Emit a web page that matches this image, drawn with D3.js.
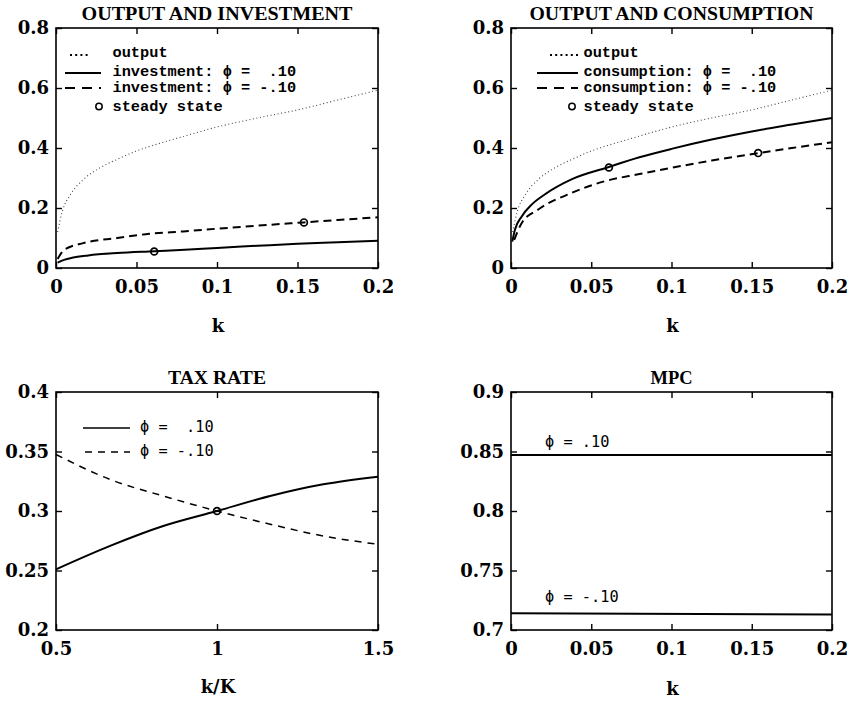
<!DOCTYPE html>
<html><head><meta charset="utf-8">
<script src="https://cdn.jsdelivr.net/npm/d3@7"></script>
<style>body{margin:0;background:#fff}svg{display:block}</style>
</head><body>
<svg id="c" width="851" height="703"></svg>
<script>
// ---------- DATA ----------
const kTicks = [0, 0.05, 0.1, 0.15, 0.2];
const kTickLabels = ["0", "0.05", "0.1", "0.15", "0.2"];
const levelTicks = [0, 0.2, 0.4, 0.6, 0.8];
const levelTickLabels = ["0", "0.2", "0.4", "0.6", "0.8"];
const kKTicks = [0.5, 1, 1.5];
const kKTickLabels = ["0.5", "1", "1.5"];
const taxTicks = [0.2, 0.25, 0.3, 0.35, 0.4];
const taxTickLabels = ["0.2", "0.25", "0.3", "0.35", "0.4"];
const mpcTicks = [0.7, 0.75, 0.8, 0.85, 0.9];
const mpcTickLabels = ["0.7", "0.75", "0.8", "0.85", "0.9"];

const kOutput = [0.001, 0.004, 0.009, 0.017, 0.027, 0.038, 0.05, 0.06, 0.075, 0.1, 0.125, 0.15, 0.175, 0.2];
const output  = [0.12, 0.19, 0.245, 0.295, 0.333, 0.362, 0.39, 0.408, 0.432, 0.47, 0.50, 0.527, 0.56, 0.593];

const kInvPos = [0.001, 0.005, 0.01, 0.02, 0.038, 0.061, 0.08, 0.1, 0.125, 0.15, 0.175, 0.2];
const invPos  = [0.018, 0.027, 0.034, 0.042, 0.050, 0.056, 0.061, 0.067, 0.074, 0.081, 0.086, 0.091];
const kInvNeg = [0.001, 0.005, 0.017, 0.038, 0.058, 0.079, 0.1, 0.125, 0.154, 0.175, 0.2];
const invNeg  = [0.03, 0.06, 0.083, 0.100, 0.114, 0.122, 0.131, 0.141, 0.152, 0.160, 0.169];

const kConsPos = [0.0008, 0.0025, 0.0067, 0.013, 0.021, 0.038, 0.06, 0.08, 0.1, 0.125, 0.15, 0.175, 0.2];
const consPos  = [0.088, 0.128, 0.172, 0.212, 0.245, 0.296, 0.335, 0.369, 0.397, 0.428, 0.455, 0.478, 0.50];
const kConsNeg = [0.002, 0.0067, 0.017, 0.038, 0.059, 0.08, 0.1, 0.125, 0.154, 0.175, 0.2];
const consNeg  = [0.094, 0.150, 0.195, 0.251, 0.29, 0.313, 0.334, 0.358, 0.383, 0.400, 0.419];

const steadyK   = [0.061, 0.154];
const steadyInv = [0.055, 0.152];
const steadyCons = [0.335, 0.383];

const kK     = [0.5, 0.668, 0.833, 1.0, 1.165, 1.33, 1.5];
const taxPos = [0.251, 0.2707, 0.2874, 0.30, 0.3126, 0.3224, 0.3288];
const taxNeg = [0.3475, 0.3265, 0.3126, 0.30, 0.2889, 0.279, 0.272];
const taxSteady = [1.0, 0.30];

const kMPC   = [0.0, 0.2];
const mpcPos = [0.847, 0.847];
const mpcNeg = [0.714, 0.713];

// ---------- DRAW ----------
const svg = d3.select("#c");
const SERIF = "'DejaVu Serif', serif";
const TSERIF = "'Liberation Serif', 'DejaVu Serif', serif";
const MONO = "'Liberation Mono', 'DejaVu Sans Mono', monospace";
const SMONO = "'DejaVu Sans Mono', monospace";

function makePanel(o) {
  const x = d3.scaleLinear().domain(o.xd).range([o.l, o.r]);
  const y = d3.scaleLinear().domain(o.yd).range([o.b, o.t]);
  const g = svg.append("g");
  const fmt = (labels, ticks) => (d) => labels[ticks.indexOf(d)];
  const style = sel => {
    sel.select(".domain").remove();
    sel.selectAll(".tick line").attr("stroke", "#000").attr("stroke-width", 1.4);
    sel.attr("font-family", SERIF).attr("font-size", 18).attr("font-weight", "bold");
    sel.selectAll(".tick text").attr("fill", "#000");
  };
  g.append("g").attr("transform", `translate(0,${o.b})`)
    .call(d3.axisBottom(x).tickValues(o.xt).tickSizeInner(-6).tickSizeOuter(0).tickPadding(12).tickFormat(fmt(o.xl, o.xt))).call(style);
  g.append("g").attr("transform", `translate(0,${o.t})`)
    .call(d3.axisTop(x).tickValues(o.xt).tickSizeInner(-6).tickSizeOuter(0).tickFormat("")).call(style);
  g.append("g").attr("transform", `translate(${o.l},0)`)
    .call(d3.axisLeft(y).tickValues(o.yt).tickSizeInner(-6).tickSizeOuter(0).tickPadding(7).tickFormat(fmt(o.yl, o.yt))).call(style);
  g.append("g").attr("transform", `translate(${o.r},0)`)
    .call(d3.axisRight(y).tickValues(o.yt).tickSizeInner(-6).tickSizeOuter(0).tickFormat("")).call(style);
  g.append("rect").attr("x", o.l).attr("y", o.t).attr("width", o.r - o.l).attr("height", o.b - o.t)
    .attr("fill", "none").attr("stroke", "#000").attr("stroke-width", 1.6);
  g.append("text").attr("x", (o.l + o.r) / 2).attr("y", o.t - 8).attr("text-anchor", "middle")
    .attr("font-family", TSERIF).attr("font-weight", "bold").attr("font-size", 19.5)
    .attr("textLength", o.titleW).attr("lengthAdjust", "spacingAndGlyphs").text(o.title);
  g.append("text").attr("x", (o.l + o.r) / 2 + 1).attr("y", o.xlabY).attr("text-anchor", "middle")
    .attr("font-family", SERIF).attr("font-weight", "bold").attr("font-size", 18).text(o.xlab);
  return { x, y, g };
}

function drawLine(p, xs, ys, opt) {
  const pts = xs.map((d, i) => [d, ys[i]]);
  const line = d3.line().x(d => p.x(d[0])).y(d => p.y(d[1])).curve(d3.curveMonotoneX);
  p.g.append("path").attr("d", line(pts)).attr("fill", "none")
    .attr("stroke", opt.color || "#000").attr("stroke-width", opt.w)
    .attr("stroke-dasharray", opt.dash || null).attr("stroke-linecap", opt.cap || "butt");
}
function drawCircles(p, xs, ys) {
  p.g.selectAll(null).data(xs).enter().append("circle")
    .attr("cx", d => p.x(d)).attr("cy", (d, i) => p.y(ys[i])).attr("r", 3.4)
    .attr("fill", "none").attr("stroke", "#000").attr("stroke-width", 1.7);
}
function legendText(g, x, y, s, fam) {
  g.append("text").attr("x", x).attr("y", y).attr("font-family", fam).attr("font-size", 15.3)
    .attr("font-weight", fam === MONO ? "bold" : "normal")
    .style("white-space", "pre").text(s);
}

const dotStyle = { w: 1.1, dash: "1,2.6", color: "#444" };
const solidStyle = { w: 2 };
const dashStyle = { w: 2, dash: "8,5" };

// Panel 1
const p1 = makePanel({ l: 56, r: 378, t: 28, b: 268, xd: [0, 0.2], yd: [0, 0.8],
  xt: kTicks, xl: kTickLabels, yt: levelTicks, yl: levelTickLabels,
  title: "OUTPUT AND INVESTMENT", titleW: 271, xlab: "k", xlabY: 332 });
drawLine(p1, kOutput, output, dotStyle);
drawLine(p1, kInvPos, invPos, solidStyle);
drawLine(p1, kInvNeg, invNeg, dashStyle);
drawCircles(p1, steadyK, steadyInv);

// Panel 2
const p2 = makePanel({ l: 511, r: 832, t: 28, b: 268, xd: [0, 0.2], yd: [0, 0.8],
  xt: kTicks, xl: kTickLabels, yt: levelTicks, yl: levelTickLabels,
  title: "OUTPUT AND CONSUMPTION", titleW: 284, xlab: "k", xlabY: 332 });
drawLine(p2, kOutput, output, dotStyle);
drawLine(p2, kConsPos, consPos, solidStyle);
drawLine(p2, kConsNeg, consNeg, dashStyle);
drawCircles(p2, steadyK, steadyCons);

// Panel 3
const p3 = makePanel({ l: 56, r: 378, t: 392, b: 630, xd: [0.5, 1.5], yd: [0.2, 0.4],
  xt: kKTicks, xl: kKTickLabels, yt: taxTicks, yl: taxTickLabels,
  title: "TAX RATE", titleW: 98, xlab: "k/K", xlabY: 693 });
drawLine(p3, kK, taxPos, { w: 2 });
drawLine(p3, kK, taxNeg, { w: 1.5, dash: "7,6" });
drawCircles(p3, [taxSteady[0]], [taxSteady[1]]);

// Panel 4
const p4 = makePanel({ l: 511, r: 832, t: 392, b: 630, xd: [0, 0.2], yd: [0.7, 0.9],
  xt: kTicks, xl: kTickLabels, yt: mpcTicks, yl: mpcTickLabels,
  title: "MPC", titleW: 42, xlab: "k", xlabY: 695 });
drawLine(p4, kMPC, mpcPos, { w: 2 });
drawLine(p4, kMPC, mpcNeg, { w: 2 });

// ---------- LEGENDS ----------
function legend4(g, dotX0, dotX1, lineX0, lineX1, circX, textX, label) {
  g.append("line").attr("x1", dotX0).attr("x2", dotX1).attr("y1", 55).attr("y2", 55)
    .attr("stroke", "#000").attr("stroke-width", 2).attr("stroke-dasharray", "2,3.2");
  legendText(g, textX, 57, "output", MONO);
  g.append("line").attr("x1", lineX0).attr("x2", lineX1).attr("y1", 73).attr("y2", 73)
    .attr("stroke", "#000").attr("stroke-width", 1.8);
  legendText(g, textX, 75.5, label + ": \u03D5 =  .10", MONO);
  g.append("line").attr("x1", lineX0).attr("x2", lineX1).attr("y1", 88).attr("y2", 88)
    .attr("stroke", "#000").attr("stroke-width", 2).attr("stroke-dasharray", "10,7");
  legendText(g, textX, 92, label + ": \u03D5 = -.10", MONO);
  g.append("circle").attr("cx", circX).attr("cy", 106.5).attr("r", 3.2)
    .attr("fill", "none").attr("stroke", "#000").attr("stroke-width", 1.5);
  legendText(g, textX, 110.5, "steady state", MONO);
}
legend4(p1.g, 70, 88, 65, 101, 99, 112.5, "investment");
legend4(p2.g, 550, 578, 537, 578, 572, 583.5, "consumption");

// Panel 3 legend
p3.g.append("line").attr("x1", 83).attr("x2", 130).attr("y1", 428).attr("y2", 428)
  .attr("stroke", "#000").attr("stroke-width", 1.6);
legendText(p3.g, 140, 431.5, "\u03D5 =  .10", SMONO);
p3.g.append("line").attr("x1", 85).attr("x2", 130).attr("y1", 452).attr("y2", 452)
  .attr("stroke", "#000").attr("stroke-width", 1.4).attr("stroke-dasharray", "7,6");
legendText(p3.g, 140, 456, "\u03D5 = -.10", SMONO);

// Panel 4 labels
legendText(p4.g, 545, 447, "\u03D5 = .10", SMONO);
legendText(p4.g, 545, 602, "\u03D5 = -.10", SMONO);
</script>
</body></html>
